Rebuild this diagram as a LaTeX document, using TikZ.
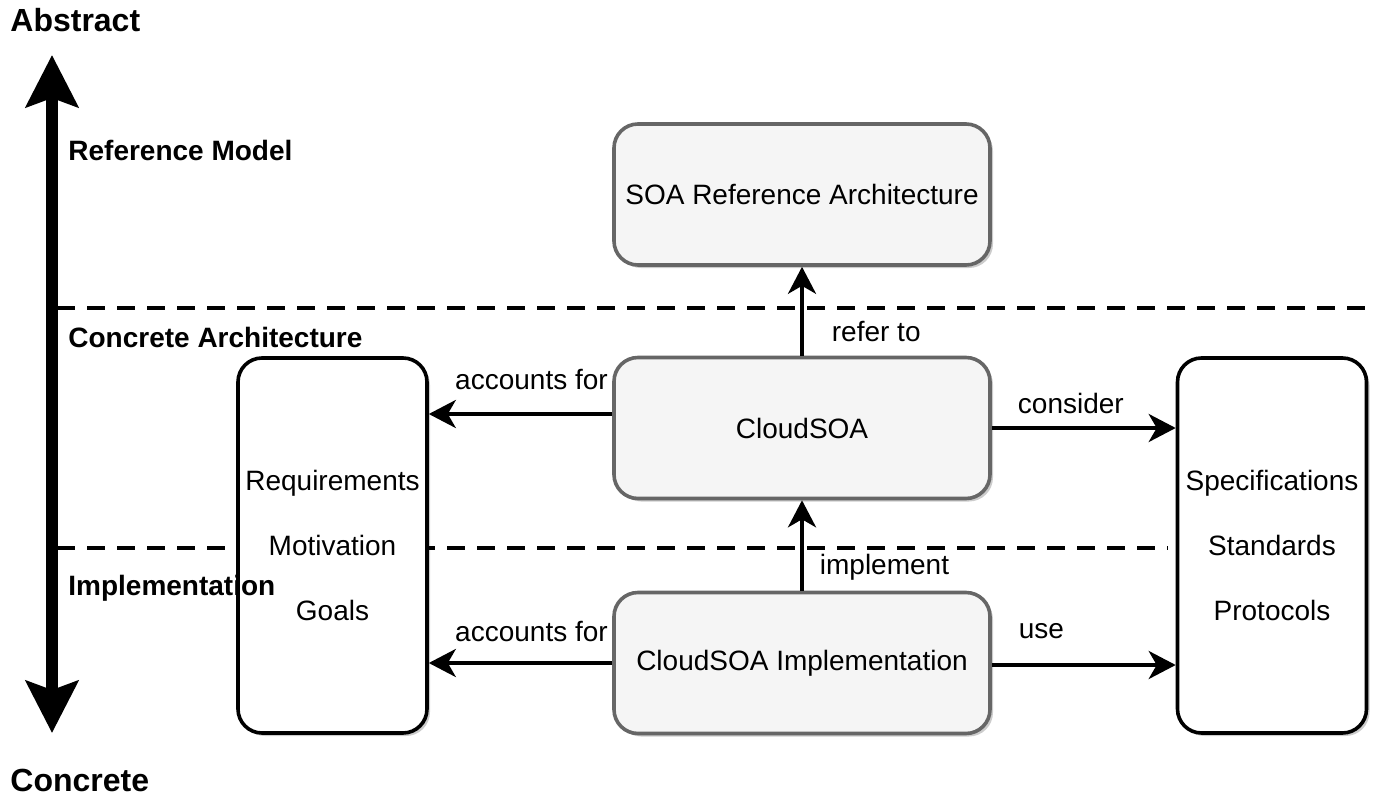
\documentclass[tikz,border=0pt]{standalone}
\usepackage{fontspec}
\setmainfont{Liberation Sans}
\usetikzlibrary{arrows.meta, positioning, shadows}
\definecolor{boxgray}{RGB}{245,245,245}
\definecolor{bordergray}{RGB}{102,102,102}

\begin{document}
\begin{tikzpicture}[
    x=0.5pt, y=-0.5pt,
    >={Stealth[length=13.5pt, width=14pt, inset=4pt]},
    every node/.style={font=\fontsize{14pt}{17pt}\selectfont},
    archbox/.style={draw=bordergray, fill=boxgray, line width=1.8pt, rounded corners=12pt,
        minimum width=188pt, minimum height=70.5pt,
        drop shadow={shadow xshift=1.5pt, shadow yshift=-1.5pt, fill=black, opacity=0.2}},
    listbox/.style={draw=black, fill=white, line width=1.8pt, rounded corners=12pt,
        minimum width=94.5pt, minimum height=187.5pt, align=center, inner sep=1pt,
        font=\fontsize{14pt}{32.5pt}\selectfont,
        drop shadow={shadow xshift=1.5pt, shadow yshift=-1.5pt, fill=black, opacity=0.2}},
    layer/.style={font=\bfseries\fontsize{14pt}{17pt}\selectfont, anchor=west, inner sep=0pt},
    conn/.style={->, line width=1.9pt},
    lbl/.style={inner sep=1pt},
    sep/.style={dash pattern=on 9pt off 6pt, line width=1.9pt},
]
    \useasboundingbox (0,0) rectangle (1376,803);

    % Abstraction axis
    \coordinate (axistop) at (52,55);
    \coordinate (axisbot) at (52,733);
    \draw[line width=6pt, {Stealth[length=26pt, width=26pt, inset=4.5pt]}-{Stealth[length=26pt, width=26pt, inset=4.5pt]}] (axistop) -- (axisbot);

    % Layer separators
    \coordinate (sepA) at (57,308);
    \coordinate (sepB) at (57,548);
    \draw[sep] (sepA) -- (1376,308);
    \draw[sep] (sepB) -- (1168,548);

    % Boxes
    \node[archbox] (ref) at (802,194.5) {SOA Reference Architecture};
    \node[archbox] (cloud) at (802,428) {CloudSOA};
    \node[archbox] (impl) at (802,663) {CloudSOA Implementation};
    \node[listbox] (req) at (332.5,545.5) {Requirements\\Motivation\\Goals};
    \node[listbox] (spec) at (1272,545.5) {Specifications\\Standards\\Protocols};

    % Connectors
    \draw[conn] (cloud.north) -- node[lbl, pos=0.27, right=13pt] {refer to} (ref.south);
    \draw[conn] (impl.north) -- node[lbl, pos=0.26, right=7pt] {implement} (cloud.south);
    \draw[conn] ([yshift=7pt]cloud.west) -- node[lbl, pos=0.44, yshift=17pt] {accounts for} ([yshift=7pt]cloud.west -| req.east);
    \draw[conn] (impl.west) -- node[lbl, pos=0.44, yshift=16pt] {accounts for} (impl.west -| req.east);
    \draw[conn] (cloud.east) -- node[lbl, pos=0.43, yshift=12.5pt] {consider} (cloud.east -| spec.west);
    \draw[conn] ([yshift=-1pt]impl.east) -- node[lbl, pos=0.27, yshift=17pt] {use} ([yshift=-1pt]impl.east -| spec.west);

    % Layer labels
    \node[layer, font=\bfseries\fontsize{16pt}{19pt}\selectfont] (abstract) at (10,20) {Abstract};
    \node[layer] (refmodel) at (68,150) {Reference Model};
    \node[layer] (concarch) at (68,337) {Concrete Architecture};
    \node[layer] (implem) at (68,588) {Implementation};
    \node[layer, font=\bfseries\fontsize{16pt}{19pt}\selectfont] (concrete) at (10,780) {Concrete};
\end{tikzpicture}
\end{document}
